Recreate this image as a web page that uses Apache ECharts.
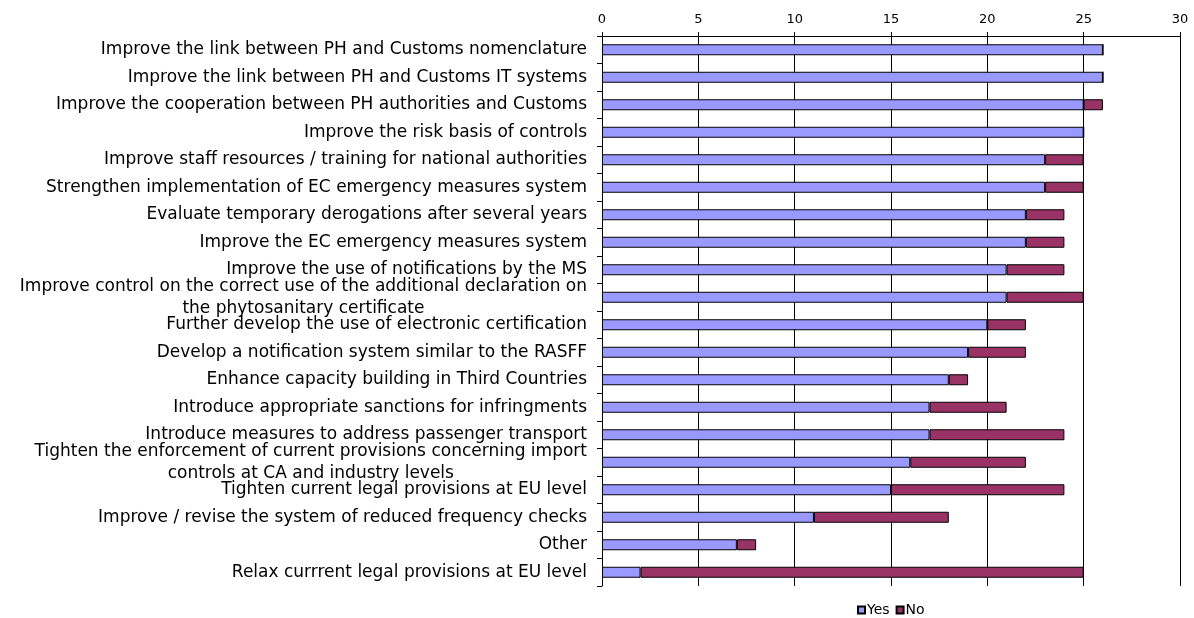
<!DOCTYPE html>
<html>
<head>
<meta charset="utf-8">
<script src="https://cdn.jsdelivr.net/npm/echarts@6/dist/echarts.min.js"></script>
<style>
  html, body { margin: 0; padding: 0; background: #fff; }
  #chart { width: 1194px; height: 618px; }
</style>
</head>
<body>
<div id="chart"></div>
<script>
// Survey options, top to bottom (wrapped labels use "\n")
var categories = [
  'Improve the link between PH and Customs nomenclature',
  'Improve the link between PH and Customs IT systems',
  'Improve the cooperation between PH authorities and Customs',
  'Improve the risk basis of controls',
  'Improve staff resources / training for national authorities',
  'Strengthen implementation of EC emergency measures system',
  'Evaluate temporary derogations after several years',
  'Improve the EC emergency measures system',
  'Improve the use of notifications by the MS',
  'Improve control on the correct use of the additional declaration on\nthe phytosanitary certificate',
  'Further develop the use of electronic certification',
  'Develop a notification system similar to the RASFF',
  'Enhance capacity building in Third Countries',
  'Introduce appropriate sanctions for infringments',
  'Introduce measures to address passenger transport',
  'Tighten the enforcement of current provisions concerning import\ncontrols at CA and industry levels',
  'Tighten current legal provisions at EU level',
  'Improve / revise the system of reduced frequency checks',
  'Other',
  'Relax currrent legal provisions at EU level'
];

var yesValues = [26, 26, 25, 25, 23, 23, 22, 22, 21, 21, 20, 19, 18, 17, 17, 16, 15, 11, 7, 2];
var noValues  = [0, 0, 1, 0, 2, 2, 2, 2, 3, 4, 2, 3, 1, 4, 7, 6, 9, 7, 1, 23];

var seriesNames = ['Yes', 'No'];
var xTicks = { min: 0, max: 30, step: 5 };

var FONT = 'DejaVu Sans, Verdana, sans-serif';

var chart = echarts.init(document.getElementById('chart'), null, { renderer: 'canvas' });

chart.setOption({
  backgroundColor: '#ffffff',
  animation: false,
  textStyle: { fontFamily: FONT, color: '#000' },
  grid: { left: 602, right: 14, top: 36, bottom: 32, containLabel: false },
  legend: {
    data: seriesNames,
    left: 852,
    top: 598,
    icon: 'rect',
    itemWidth: 7,
    itemHeight: 7,
    itemGap: 6,
    textStyle: { fontFamily: FONT, fontSize: 14, color: '#000', padding: [0, 0, 0, -3] }
  },
  xAxis: {
    type: 'value',
    position: 'top',
    min: xTicks.min,
    max: xTicks.max,
    interval: xTicks.step,
    axisLine: { show: true, lineStyle: { color: '#000', width: 1 } },
    axisTick: { show: true, length: 4, lineStyle: { color: '#000' } },
    axisLabel: { fontFamily: FONT, fontSize: 13, color: '#000', margin: 10 },
    splitLine: { show: true, lineStyle: { color: '#000', width: 1 } }
  },
  yAxis: {
    type: 'category',
    inverse: true,
    data: categories,
    axisLine: { show: true, lineStyle: { color: '#000', width: 1 } },
    axisTick: { show: true, length: 5, alignWithLabel: false, lineStyle: { color: '#000' } },
    splitLine: { show: false },
    axisLabel: {
      interval: 0,
      margin: 15,
      fontFamily: FONT,
      fontSize: 17,
      color: '#000',
      lineHeight: 22,
      formatter: function (v) {
        return v.split('\n').map(function (s) { return '{c|' + s + '}'; }).join('\n');
      },
      rich: {
        c: { fontFamily: FONT, fontSize: 17, color: '#000', align: 'center', lineHeight: 22 }
      }
    }
  },
  series: [
    {
      name: seriesNames[0],
      type: 'bar',
      stack: 'total',
      barWidth: 11,
      data: yesValues,
      itemStyle: { color: '#9999FF', borderColor: '#000', borderWidth: 1 }
    },
    {
      name: seriesNames[1],
      type: 'bar',
      stack: 'total',
      barWidth: 11,
      data: noValues,
      itemStyle: { color: '#993366', borderColor: '#000', borderWidth: 1 }
    }
  ]
});
</script>
</body>
</html>
